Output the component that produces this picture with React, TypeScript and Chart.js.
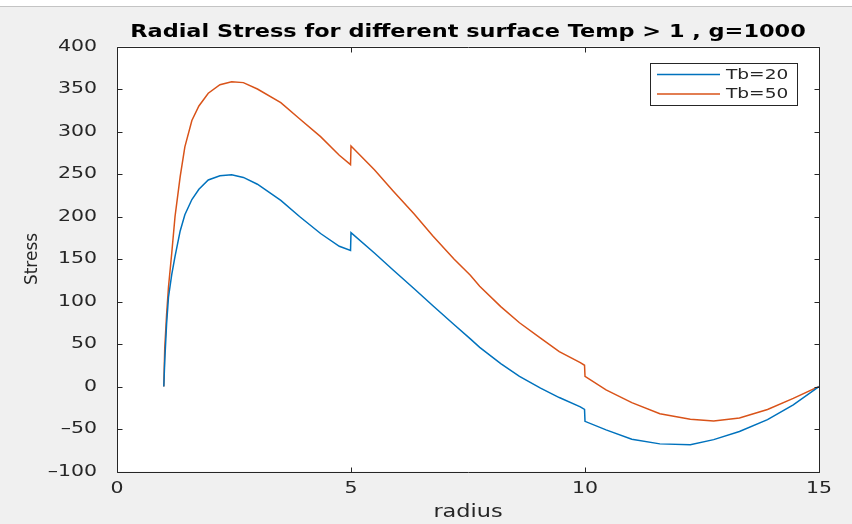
import React, { useEffect, useRef } from "react";
import { Chart, registerables } from "chart.js";

Chart.register(...registerables);

const chartTitle = "Radial Stress for different surface Temp > 1 , g=1000";
const xAxisLabel = "radius";
const yAxisLabel = "Stress";
const seriesLabels = ["Tb=20", "Tb=50"];
const seriesColors = ["#0072BD", "#D95319"];

const radius = [
  1.0, 1.02, 1.06, 1.1, 1.17, 1.24, 1.35, 1.45, 1.6, 1.75, 1.95, 2.2, 2.45, 2.7,
  3.0, 3.5, 3.9, 4.35, 4.75, 4.99, 5.0, 5.5, 5.9, 6.35, 6.75, 7.2, 7.55, 7.75,
  8.2, 8.6, 9.05, 9.45, 9.9, 9.99, 10.0, 10.45, 11.0, 11.6, 12.25, 12.75, 13.3,
  13.9, 14.45, 15.0,
];

const stressTb20 = [
  0, 30, 74, 105, 132, 153, 183, 202, 220, 232, 243, 248, 249, 246,
  238, 219, 200, 180, 165, 160, 181, 157, 137, 115, 95, 73, 56, 46,
  27, 12, -2, -13, -24, -27, -41, -51, -62, -67.5, -68.5, -62.5, -53,
  -39, -21.5, 0,
];

const stressTb50 = [
  0, 45, 85, 117, 157, 200, 247, 282, 313, 330, 345, 355, 358.5, 357.5,
  350, 334, 315, 294, 272, 261, 283, 255, 230, 203, 177, 150, 131, 118,
  94, 75, 57, 41, 28, 25, 12, -4, -19, -32, -38.5, -40.5, -37,
  -27, -14, 0,
];

const xTicks = { min: 0, max: 15, step: 5 };
const yTicks = { min: -100, max: 400, step: 50 };

const AXIS_COLOR = "#262626";
const TEXT_STRETCH = 1.28;
const FONT = "'DejaVu Sans'";

const nativeFillText = CanvasRenderingContext2D.prototype.fillText;

const matlabPlugin = {
  id: "matlabLook",
  beforeDraw(chart: any) {
    const { ctx, chartArea, width, height } = chart;
    if (!(ctx as any).__stretched) {
      (ctx as any).__stretched = true;
      (ctx as any).fillText = function (text: string, x: number, y: number, mw?: number) {
        this.save();
        this.translate(x, y);
        this.scale(TEXT_STRETCH, 1);
        if (mw === undefined) nativeFillText.call(this, text, 0, 0);
        else nativeFillText.call(this, text, 0, 0, mw / TEXT_STRETCH);
        this.restore();
      };
    }
    ctx.save();
    ctx.fillStyle = "#f0f0f0";
    ctx.fillRect(0, 0, width, height);
    ctx.fillStyle = "#ffffff";
    ctx.fillRect(0, 0, width, 6);
    ctx.strokeStyle = "#c4c4c4";
    ctx.lineWidth = 1;
    ctx.beginPath();
    ctx.moveTo(0, 6.5);
    ctx.lineTo(width, 6.5);
    ctx.stroke();
    ctx.fillStyle = "#ffffff";
    ctx.fillRect(
      chartArea.left,
      chartArea.top,
      chartArea.right - chartArea.left,
      chartArea.bottom - chartArea.top
    );
    ctx.restore();
  },
  afterDraw(chart: any) {
    const { ctx, chartArea } = chart;
    const xs = chart.scales.x;
    const ys = chart.scales.y;
    const L = Math.round(chartArea.left) + 0.5;
    const R = Math.round(chartArea.right) + 0.5;
    const T = Math.round(chartArea.top) + 0.5;
    const B = Math.round(chartArea.bottom) + 0.5;
    ctx.save();
    ctx.strokeStyle = AXIS_COLOR;
    ctx.lineWidth = 1;
    ctx.beginPath();
    ctx.rect(L, T, R - L, B - T);
    ctx.stroke();
    const tl = 5;
    ctx.beginPath();
    xs.ticks.forEach((t: any) => {
      const px = Math.round(xs.getPixelForValue(t.value)) + 0.5;
      ctx.moveTo(px, B);
      ctx.lineTo(px, B - tl);
      ctx.moveTo(px, T);
      ctx.lineTo(px, T + tl);
    });
    ys.ticks.forEach((t: any) => {
      const py = Math.round(ys.getPixelForValue(t.value)) + 0.5;
      ctx.moveTo(L, py);
      ctx.lineTo(L + tl, py);
      ctx.moveTo(R, py);
      ctx.lineTo(R - tl, py);
    });
    ctx.stroke();

    // legend
    const lx = 650.5, ly = 63.5, lw = 147, lh = 42;
    ctx.fillStyle = "#ffffff";
    ctx.fillRect(lx, ly, lw, lh);
    ctx.strokeStyle = AXIS_COLOR;
    ctx.strokeRect(lx, ly, lw, lh);
    ctx.font = `14.5px ${FONT}`;
    ctx.textBaseline = "middle";
    ctx.textAlign = "left";
    chart.data.datasets.forEach((ds: any, i: number) => {
      const rowY = 74.5 + i * 19.5;
      ctx.strokeStyle = ds.borderColor;
      ctx.lineWidth = 1.5;
      ctx.beginPath();
      ctx.moveTo(657, rowY);
      ctx.lineTo(720, rowY);
      ctx.stroke();
      ctx.fillStyle = AXIS_COLOR;
      ctx.fillText(ds.label, 726, rowY + 0.5);
    });

    // y axis title (rotated, drawn without the horizontal text stretch)
    ctx.translate(33, (chartArea.top + chartArea.bottom) / 2);
    ctx.rotate(-Math.PI / 2);
    ctx.font = `17px ${FONT}`;
    ctx.textAlign = "center";
    ctx.textBaseline = "middle";
    ctx.fillStyle = AXIS_COLOR;
    nativeFillText.call(ctx, yAxisLabel, 0, 0);
    ctx.restore();
  },
};

export default function App() {
  const canvasRef = useRef<HTMLCanvasElement | null>(null);

  useEffect(() => {
    if (!canvasRef.current) return;
    const toPoints = (ys: number[]) => radius.map((x, i) => ({ x, y: ys[i] }));
    const chart = new Chart(canvasRef.current, {
      type: "line",
      data: {
        datasets: [
          {
            label: seriesLabels[0],
            data: toPoints(stressTb20),
            borderColor: seriesColors[0],
            backgroundColor: seriesColors[0],
            borderWidth: 1.5,
            pointRadius: 0,
            tension: 0,
            fill: false,
          },
          {
            label: seriesLabels[1],
            data: toPoints(stressTb50),
            borderColor: seriesColors[1],
            backgroundColor: seriesColors[1],
            borderWidth: 1.5,
            pointRadius: 0,
            tension: 0,
            fill: false,
          },
        ],
      },
      plugins: [matlabPlugin],
      options: {
        animation: false,
        responsive: false,
        devicePixelRatio: 1,
        layout: { padding: { left: 0, right: 33, top: 0, bottom: 0 } },
        plugins: {
          legend: { display: false },
          tooltip: { enabled: false },
          title: {
            display: true,
            fullSize: false,
            text: chartTitle,
            color: "#000000",
            font: { family: FONT, size: 17.5, weight: "bold" },
            padding: { top: 22.2, bottom: 3.3 },
          },
        },
        scales: {
          x: {
            type: "linear",
            min: xTicks.min,
            max: xTicks.max,
            grid: { display: false },
            border: { display: false },
            ticks: {
              stepSize: xTicks.step,
              color: AXIS_COLOR,
              font: { family: FONT, size: 16 },
              padding: 0,
              maxRotation: 0,
            },
            title: {
              display: true,
              text: xAxisLabel,
              color: AXIS_COLOR,
              font: { family: FONT, size: 17.5 },
              padding: { top: 0, bottom: 1.5 },
            },
            afterFit: (s: any) => {
              s.height = 52.5;
            },
          },
          y: {
            type: "linear",
            min: yTicks.min,
            max: yTicks.max,
            grid: { display: false },
            border: { display: false },
            ticks: {
              stepSize: yTicks.step,
              color: AXIS_COLOR,
              font: { family: FONT, size: 16 },
              padding: 12,
              callback: (v: any) => String(v).replace("-", "\u2013"),
            },
            title: { display: false },
            afterFit: (s: any) => {
              s.width = 117;
            },
          },
        },
      },
    });
    return () => chart.destroy();
  }, []);

  return (
    <div
      style={{
        position: "fixed",
        left: 0,
        top: 0,
        width: 852,
        height: 524,
        background: "#f0f0f0",
      }}
    >
      <canvas ref={canvasRef} width={852} height={524} style={{ display: "block" }} />
    </div>
  );
}
